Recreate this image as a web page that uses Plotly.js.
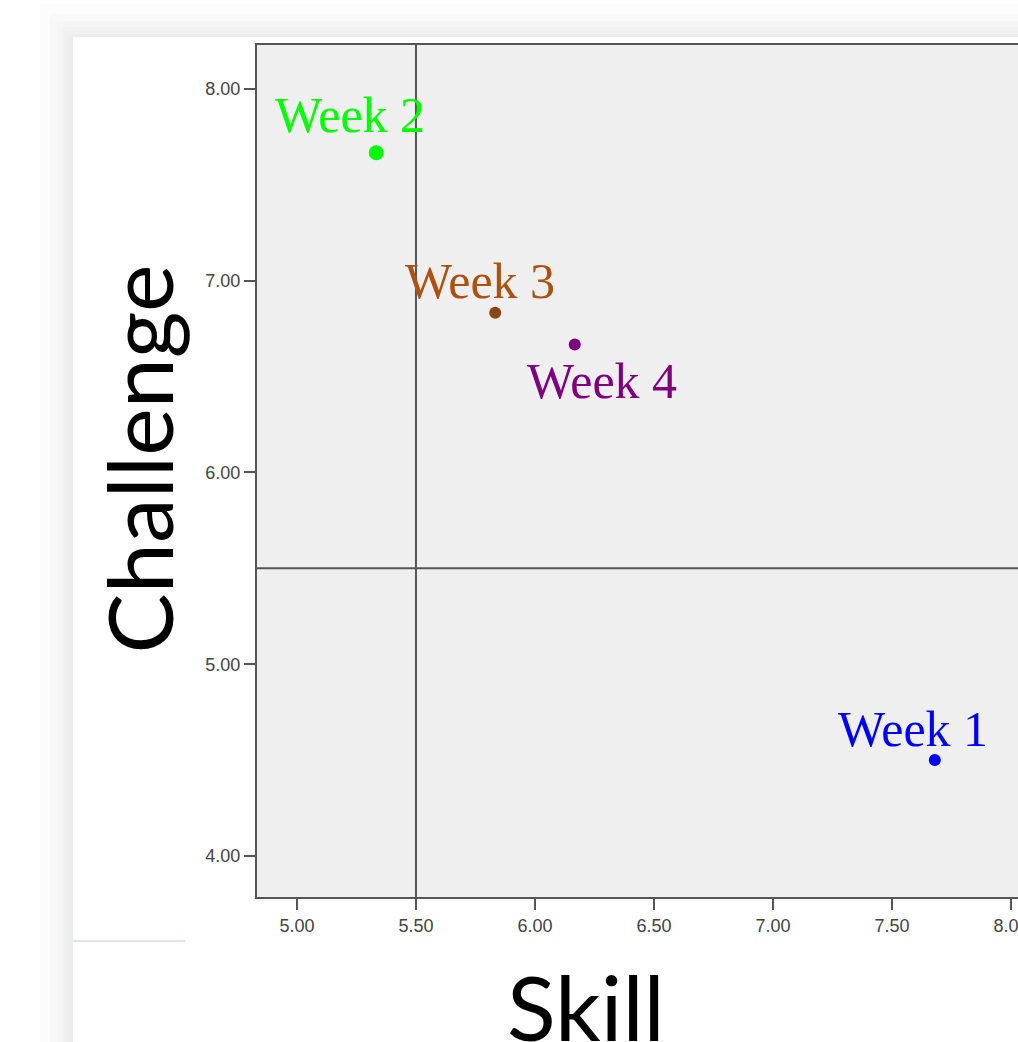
<!DOCTYPE html>
<html>
<head>
<meta charset="utf-8">
<script src="https://cdn.plot.ly/plotly-3.0.1.min.js"></script>
<style>
html,body{margin:0;padding:0;overflow:hidden;background:#ffffff;}
#chart{width:1040px;height:1042px;}
</style>
</head>
<body>
<div id="chart"></div>
<script>
// ---- data ----
const weeks = ["Week 1", "Week 2", "Week 3", "Week 4"];
const skill = [7.68, 5.333, 5.833, 6.167];
const challenge = [4.5, 7.667, 6.833, 6.667];
const xTickVals = [5.0, 5.5, 6.0, 6.5, 7.0, 7.5, 8.0];
const yTickVals = [4.0, 5.0, 6.0, 7.0, 8.0];
const refSkill = 5.5;
const refChallenge = 5.5;

// ---- styles ----
const markerColors = ["#0000ff", "#00ff00", "#8b4513", "#800080"];
const labelColors  = ["#0000ff", "#00ff00", "#b0500f", "#800080"];
const markerSizes  = [12, 15, 12, 12];
const labelShift = [[-22, 31], [-26, 38], [-15, 32], [27, -36]];

const trace = {
  type: "scatter",
  mode: "markers",
  x: skill,
  y: challenge,
  text: weeks,
  hoverinfo: "text+x+y",
  marker: {color: markerColors, size: markerSizes, opacity: 1, line: {width: 0}},
  opacity: 1,
  showlegend: false
};

const annotations = weeks.map((w, i) => ({
  x: skill[i], y: challenge[i], xref: "x", yref: "y",
  text: w, showarrow: false,
  xanchor: "center", yanchor: "middle",
  xshift: labelShift[i][0], yshift: labelShift[i][1],
  font: {family: "Liberation Serif, DejaVu Serif, serif", size: 50, color: labelColors[i]}
}));

// axis titles placed as annotations
annotations.push({
  text: "Challenge", xref: "paper", yref: "paper",
  x: -0.1535, y: 0.514, xanchor: "center", yanchor: "middle",
  textangle: -90, showarrow: false,
  font: {family: "Lato, Open Sans, sans-serif", size: 90, color: "#000000"}
});
annotations.push({
  text: "Skill", xref: "paper", yref: "paper",
  x: 0.4256, y: -0.128, xanchor: "center", yanchor: "middle",
  showarrow: false,
  font: {family: "Lato, Open Sans, sans-serif", size: 90, color: "#000000"}
});

// page decoration (panel shadow) in paper coords: px -> paper
const W0 = 257, PW = 773, B0 = 897, PH = 852;
const px = v => (v - W0) / PW;
const py = v => (B0 - v) / PH;
const shapes = [];
const leftBands = [[40, 50, "#fcfcfc"], [50, 57, "#f8f8f8"], [57, 63, "#f5f5f5"], [63, 67, "#f1f1f1"], [67, 70, "#eeeeee"], [70, 73, "#ebebeb"]];
leftBands.forEach(b => shapes.push({type: "rect", xref: "paper", yref: "paper",
  x0: px(b[0]), x1: px(b[1]), y0: py(1042), y1: py(b[0] - 36), fillcolor: b[2], line: {width: 0}, layer: "below"}));
const topBands = [[4, 14, "#fcfcfc"], [14, 21, "#f9f9f9"], [21, 27, "#f6f6f6"], [27, 31, "#f3f3f3"], [31, 34, "#f0f0f0"], [34, 37, "#ededed"]];
topBands.forEach(b => shapes.push({type: "rect", xref: "paper", yref: "paper",
  x0: px(b[0] + 36), x1: px(1040), y0: py(b[1]), y1: py(b[0]), fillcolor: b[2], line: {width: 0}, layer: "below"}));
// stray light rule
shapes.push({type: "line", xref: "paper", yref: "paper", x0: px(73), x1: px(185), y0: py(941), y1: py(941),
  line: {color: "#dfe5ef", width: 2}, layer: "below"});
// reference lines
shapes.push({type: "line", xref: "x", yref: "paper", x0: refSkill, x1: refSkill, y0: 0, y1: 1,
  line: {color: "#555555", width: 2}, layer: "above"});
shapes.push({type: "line", xref: "paper", yref: "y", x0: 0, x1: 1, y0: refChallenge, y1: refChallenge,
  line: {color: "#555555", width: 2}, layer: "above"});

const tickFont = {family: "Liberation Sans, Arial, sans-serif", size: 18, color: "#444444"};

const layout = {
  width: 1040, height: 1042,
  margin: {l: 257, r: 10, t: 45, b: 145},
  paper_bgcolor: "#ffffff",
  plot_bgcolor: "#efefef",
  showlegend: false,
  xaxis: {
    range: [4.832, 8.08], tickvals: xTickVals, tickformat: ".2f",
    showgrid: false, zeroline: false,
    showline: true, linecolor: "#555555", linewidth: 2, mirror: true,
    ticks: "outside", ticklen: 11, tickwidth: 1.5, tickcolor: "#555555",
    tickfont: tickFont
  },
  yaxis: {
    range: [3.786, 8.229], tickvals: yTickVals, tickformat: ".2f",
    showgrid: false, zeroline: false,
    showline: true, linecolor: "#555555", linewidth: 2, mirror: true,
    ticks: "outside", ticklen: 11, tickwidth: 2, tickcolor: "#555555",
    tickfont: tickFont
  },
  annotations: annotations,
  shapes: shapes
};

Plotly.newPlot("chart", [trace], layout, {displayModeBar: false, staticPlot: true});
</script>
</body>
</html>
